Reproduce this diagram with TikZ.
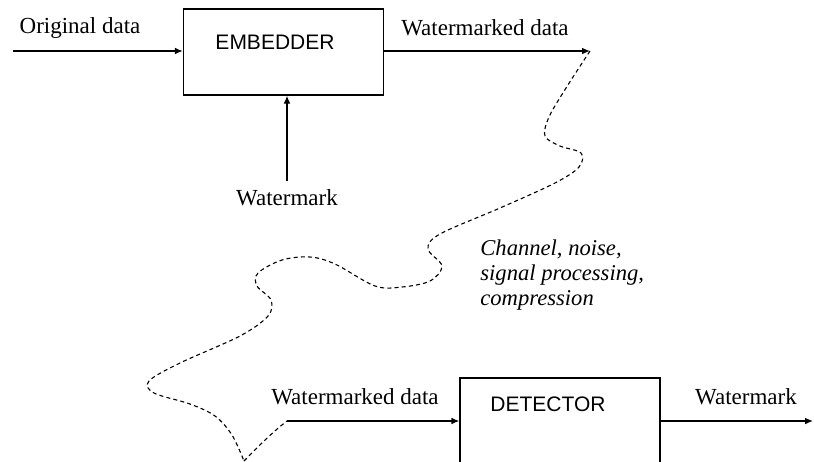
\documentclass[tikz,border=0pt]{standalone}
\usepackage{fontspec}
\setmainfont{Liberation Serif}
\newfontfamily\sansfam{Liberation Sans}
\usetikzlibrary{arrows.meta}
\tikzset{
  blockbox/.style={draw, line width=0.65pt, rectangle, inner sep=0pt, minimum width=100pt, minimum height=43pt},
  blocktext/.style={font=\sansfam\fontsize{10.5}{12}\selectfont, inner sep=0pt},
  lbl/.style={font=\fontsize{11.5}{13}\selectfont, inner sep=0pt},
  itlbl/.style={font=\itshape\fontsize{11.3}{12.6}\selectfont, inner sep=0pt, align=left},
  conn/.style={line width=0.65pt, -{Latex[length=4pt,width=3.4pt]}},
  channel/.style={line width=0.55pt, dash pattern=on 2pt off 1.6pt}
}
\begin{document}
\begin{tikzpicture}[x=0.5pt,y=-0.5pt]
\useasboundingbox (0,0) rectangle (814,461);
\clip (0,0) rectangle (814,461);
% blocks
\node[blockbox] (emb) at (283.5,52) {};
\node[blocktext] (embt) at (275,42) {EMBEDDER};
\node[blockbox] (det) at (560,421) {};
\node[blocktext] (dett) at (548,404) {DETECTOR};
% labels
\node[lbl] (lorig) at (80,28) {Original data};
\node[lbl] (lwmd) at (485,28) {Watermarked data};
\node[lbl] (lwm) at (287,198) {Watermark};
\node[itlbl, anchor=west] (lch) at (480,275) {Channel, noise,\\signal processing,\\compression};
\node[lbl] (lwmd2) at (355,397) {Watermarked data};
\node[lbl] (lwm2) at (746,397) {Watermark};
% coordinates
\coordinate (od) at (13,51);
\coordinate (wmo) at (590,51);
\coordinate (wmin) at (287,181);
\coordinate (bot) at (244,461);
\coordinate (dd) at (287,421);
\coordinate (wout) at (813,421);
% connectors
\draw[conn] (od) -- (od -| emb.west);
\draw[conn] (emb.east |- wmo) -- (wmo);
\draw[conn] (wmin) -- (wmin |- emb.south);
\draw[conn] (dd) -- (dd -| det.west);
\draw[conn] (det.east |- wout) -- (wout);
% channel
\draw[channel] plot[smooth, tension=0.55] coordinates {(wmo) (566,88) (549,117) (545,136) (560,146) (581,153) (579,167) (555,183) (500,208) (440,234) (428,249) (442,266) (430,281) (402,287) (375,286) (335,264) (310,257) (282,260) (258,273) (257,286) (271,300) (268,316) (240,336) (180,363) (149,381) (154,393) (190,404) (215,416) (232,435) (bot)};
\draw[channel] (bot) .. controls (255,450) and (270,434) .. (dd);
\end{tikzpicture}
\end{document}
